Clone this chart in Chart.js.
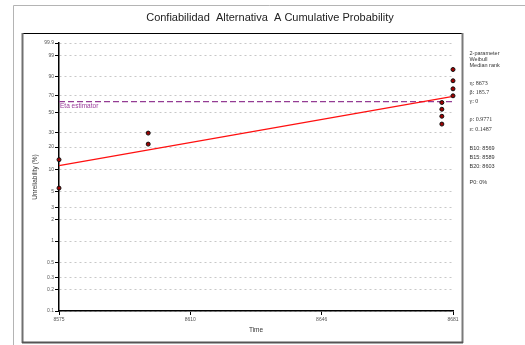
<!DOCTYPE html>
<html>
<head>
<meta charset="utf-8">
<script src="https://cdn.jsdelivr.net/npm/chart.js@4/dist/chart.umd.min.js"></script>
<style>
html,body{margin:0;padding:0;background:#fff;}
#wrap{width:525px;height:345px;position:relative;}
</style>
</head>
<body>
<div id="wrap"><canvas id="c" width="525" height="345"></canvas></div>
<script>
// ---- data ----
const titleText = 'Confiabilidad  Alternativa  A Cumulative Probability';
const tickPct = [0.1, 0.2, 0.3, 0.5, 1, 2, 3, 5, 10, 20, 30, 50, 70, 90, 99, 99.9];
const tickLabels = ['0.1', '0.2', '0.3', '0.5', '1', '2', '3', '5', '10', '20', '30', '50', '70', '90', '99', '99.9'];
const timeTicks = [8575, 8610.33, 8645.67, 8681];
const timeLabels = ['8575', '8610', '8646', '8681'];
const failTimes = [8575, 8575, 8599, 8599, 8678, 8678, 8678, 8678, 8681, 8681, 8681, 8681];
const unreliability = [5.6, 13.7, 21.8, 29.8, 37.9, 46.0, 54.0, 62.1, 70.2, 78.2, 86.3, 94.4];
const fitTimes = [8575, 8681];
const fitPct = [11.4, 69.5];
const etaPct = 63.2;
const etaLabel = 'Eta estimator';
const infoLines = [
  ['2-parameter', 'sans'], ['Weibull', 'sans'], ['Median rank', 'sans'],
  ['η: 8673', 'serif'], ['β: 185.7', 'serif'], ['γ: 0', 'serif'],
  ['ρ: 0.9771', 'serif'], ['ε: 0.1487', 'serif'],
  ['B10: 8569', 'sans'], ['B15: 8589', 'sans'], ['B20: 8603', 'sans'],
  ['P0: 0%', 'sans']
];
const infoY = [53, 59, 65, 83, 92, 101, 119, 129, 148, 157, 166, 182];

// Weibull probability transform
const tr = p => Math.log(-Math.log(1 - p / 100));

const pts = failTimes.map((t, i) => ({x: t, y: tr(unreliability[i])}));
const fit = fitTimes.map((t, i) => ({x: t, y: tr(fitPct[i])}));
const eta = [{x: timeTicks[0], y: tr(etaPct)}, {x: timeTicks[timeTicks.length - 1], y: tr(etaPct)}];

const framePlugin = {
  id: 'frame',
  beforeDraw(chart) {
    const ctx = chart.ctx;
    ctx.save();
    ctx.fillStyle = '#fff';
    ctx.fillRect(0, 0, chart.width, chart.height);
    // outer light frame
    ctx.strokeStyle = '#b4b4b4';
    ctx.lineWidth = 1;
    ctx.beginPath();
    ctx.moveTo(13.5, 345); ctx.lineTo(13.5, 5.5); ctx.lineTo(525, 5.5);
    ctx.stroke();
    // inner frame
    ctx.strokeStyle = '#000';
    ctx.lineWidth = 1;
    ctx.beginPath(); ctx.moveTo(22, 33.5); ctx.lineTo(463, 33.5); ctx.stroke();
    ctx.strokeStyle = '#707070';
    ctx.lineWidth = 2;
    ctx.beginPath(); ctx.moveTo(22.5, 33); ctx.lineTo(22.5, 343); ctx.stroke();
    ctx.strokeStyle = '#7a7a7a';
    ctx.beginPath(); ctx.moveTo(462.5, 33); ctx.lineTo(462.5, 343); ctx.stroke();
    ctx.strokeStyle = '#555';
    ctx.beginPath(); ctx.moveTo(22, 342.5); ctx.lineTo(463, 342.5); ctx.stroke();
    // title
    ctx.fillStyle = '#222';
    ctx.font = '11px "Liberation Sans", Arial, sans-serif';
    ctx.textAlign = 'center';
    ctx.textBaseline = 'middle';
    ctx.fillText(titleText, 270, 18);
    ctx.restore();
  },
  afterDraw(chart) {
    const ctx = chart.ctx;
    const ys = chart.scales.y, xs = chart.scales.x;
    ctx.save();
    // eta label
    ctx.fillStyle = '#9a3a9a';
    ctx.font = '6.5px "Liberation Sans", Arial, sans-serif';
    ctx.textBaseline = 'top';
    ctx.textAlign = 'left';
    ctx.fillText(etaLabel, xs.getPixelForValue(timeTicks[0]) + 1, ys.getPixelForValue(tr(etaPct)) + 1.5);
    // info panel
    ctx.fillStyle = '#333';
    ctx.textBaseline = 'middle';
    infoLines.forEach((l, i) => {
      ctx.font = l[1] === 'serif' ? '6px "Liberation Serif", "DejaVu Serif", serif' : '5.5px "Liberation Sans", Arial, sans-serif';
      ctx.fillText(l[0], 469.5, infoY[i]);
    });
    ctx.restore();
  }
};

new Chart(document.getElementById('c'), {
  type: 'scatter',
  data: {
    datasets: [
      {
        type: 'line', data: eta, borderColor: '#943c94', borderWidth: 1.3,
        borderDash: [6, 3], pointRadius: 0, fill: false, clip: false, order: 3
      },
      {
        type: 'line', data: fit, borderColor: '#ff1010', borderWidth: 1.2,
        pointRadius: 0, fill: false, clip: false, order: 2
      },
      {
        data: pts, backgroundColor: '#a00000', borderColor: '#111', borderWidth: 1,
        pointRadius: 2, clip: false, order: 1
      }
    ]
  },
  options: {
    responsive: false,
    animation: false,
    devicePixelRatio: 1,
    layout: {padding: {left: 0, right: 72, top: 43, bottom: 0}},
    plugins: {
      legend: {display: false},
      tooltip: {enabled: false},
      title: {display: false}
    },
    scales: {
      x: {
        type: 'linear', min: timeTicks[0], max: timeTicks[timeTicks.length - 1],
        afterBuildTicks: s => { s.ticks = timeTicks.map(v => ({value: v})); },
        afterFit: s => { s.height = 34; },
        ticks: {
          callback: (v, i) => timeLabels[i], color: '#555', padding: 2, maxRotation: 0, autoSkip: false,
          font: {family: '"Liberation Sans", Arial, sans-serif', size: 5}
        },
        grid: {drawOnChartArea: false, drawTicks: true, tickLength: 4, tickColor: '#000', tickWidth: 1},
        border: {display: true, color: '#000', width: 1.5},
        title: {
          display: true, text: 'Time', color: '#333',
          font: {family: '"Liberation Sans", Arial, sans-serif', size: 6.5},
          padding: {top: 0, bottom: 11}
        }
      },
      y: {
        type: 'linear', min: tr(tickPct[0]), max: tr(tickPct[tickPct.length - 1]),
        afterBuildTicks: s => { s.ticks = tickPct.map(p => ({value: tr(p)})); },
        afterFit: s => { s.width = 59; },
        ticks: {
          callback: (v, i) => tickLabels[i], color: '#555', padding: 1, autoSkip: false,
          font: {family: '"Liberation Sans", Arial, sans-serif', size: 5}
        },
        grid: {
          drawOnChartArea: true, drawTicks: true, tickLength: 4, tickColor: '#000', tickWidth: 1,
          color: '#c8c8c8', lineWidth: 1
        },
        border: {display: true, color: '#000', width: 1.5, dash: [2, 3]},
        title: {
          display: true, text: 'Unreliability (%)', color: '#333',
          font: {family: '"Liberation Sans", Arial, sans-serif', size: 6.5},
          padding: {top: 31, bottom: 0}
        }
      }
    }
  },
  plugins: [framePlugin]
});
</script>
</body>
</html>
